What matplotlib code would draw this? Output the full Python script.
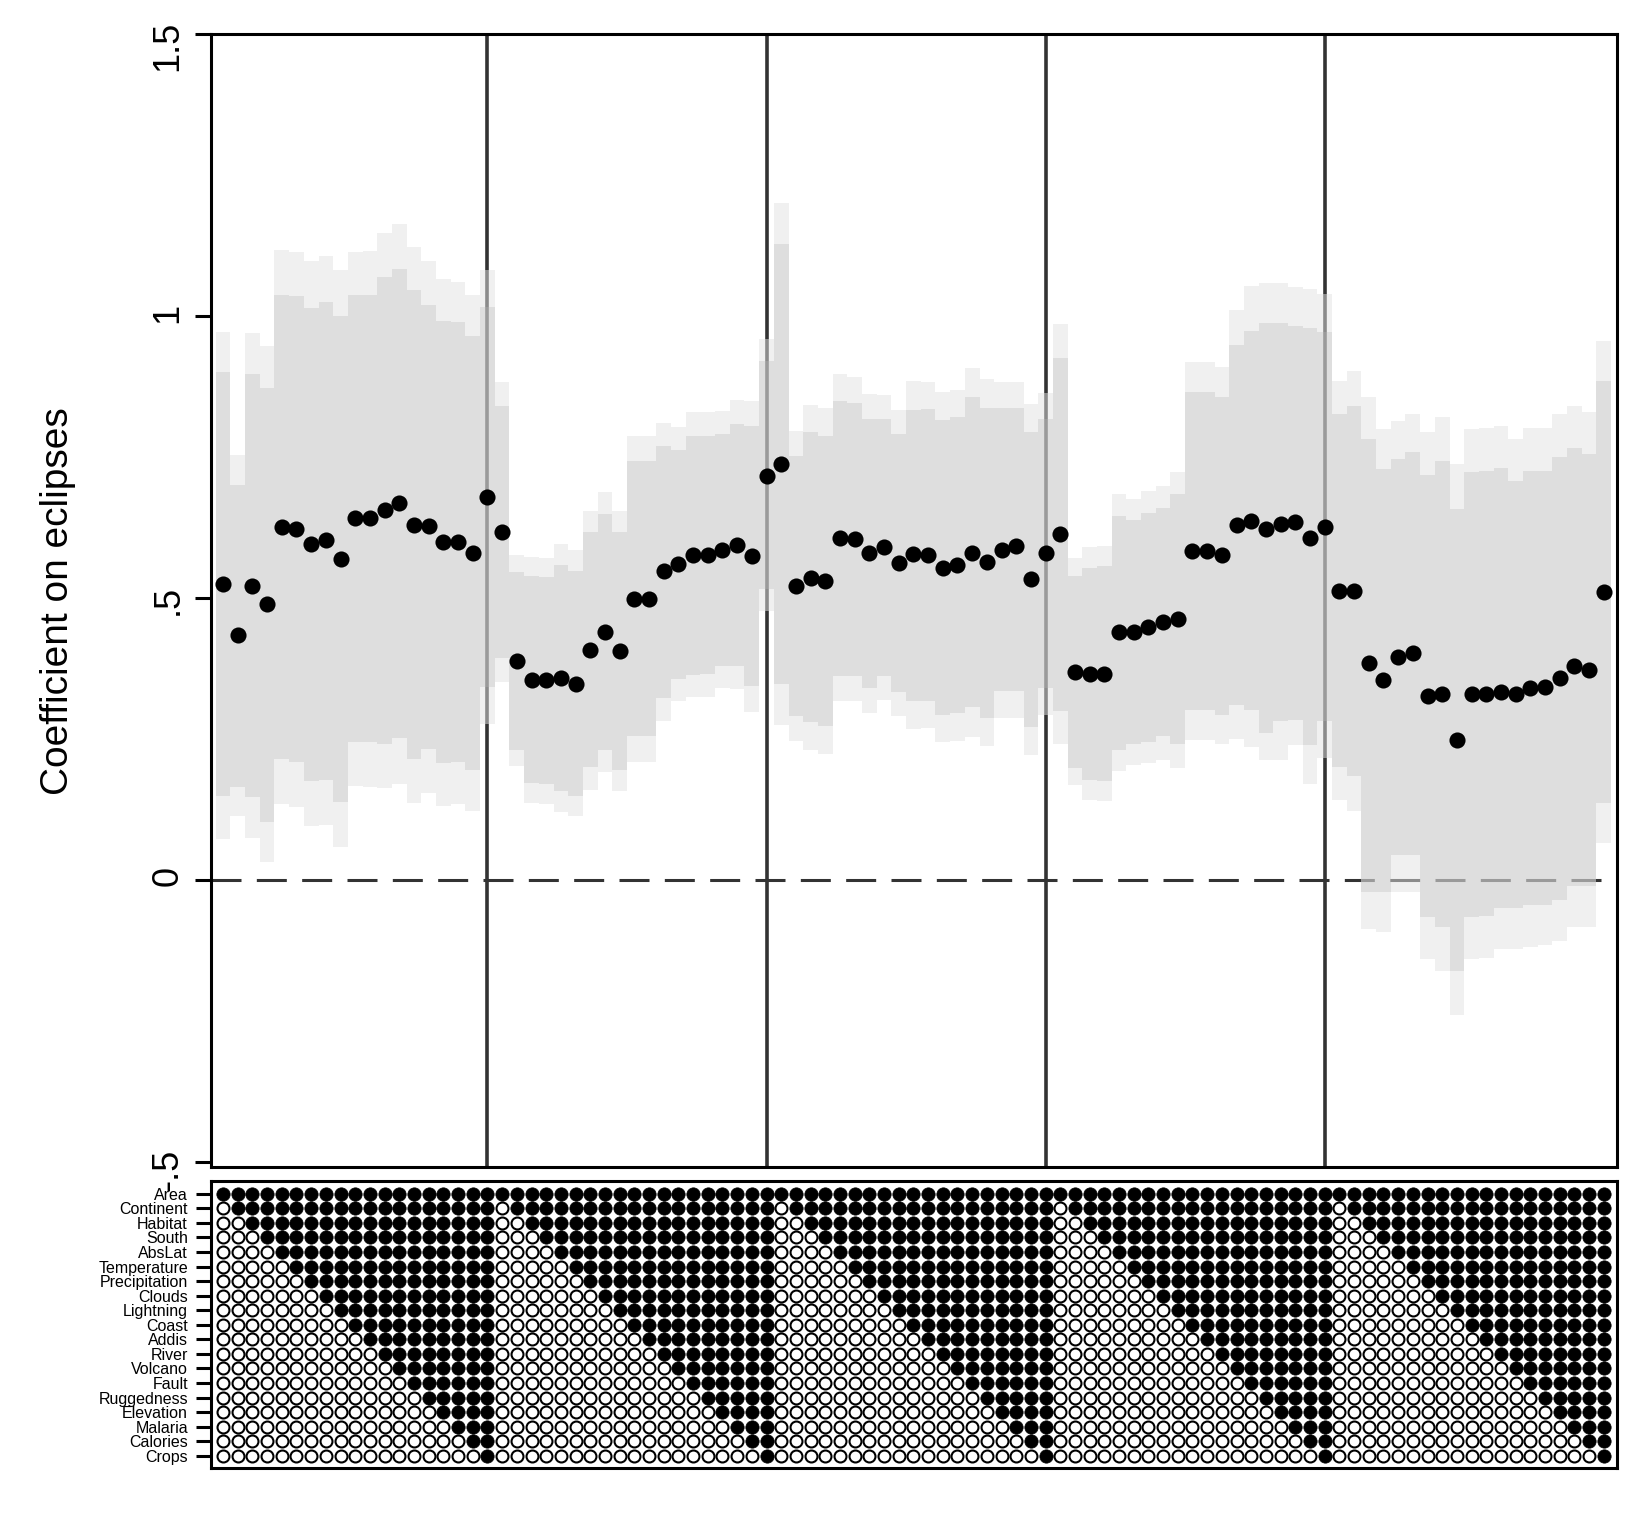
import matplotlib
matplotlib.use("Agg")
import matplotlib.pyplot as plt
import numpy as np

plt.rcParams['font.family'] = ['Liberation Sans', 'DejaVu Sans']
plt.rcParams['lines.scale_dashes'] = False

# ---------------- data ----------------
controls = ["Area", "Continent", "Habitat", "South", "AbsLat", "Temperature",
            "Precipitation", "Clouds", "Lightning", "Coast", "Addis", "River",
            "Volcano", "Fault", "Ruggedness", "Elevation", "Malaria", "Calories",
            "Crops"]

# number of controls included (first n of the list) in each specification, per block
n_included = [
    [1, 2, 3, 4, 5, 6, 7, 8, 9, 10, 11, 12, 13, 14, 15, 16, 17, 18, 19],
    [1, 2, 3, 4, 5, 6, 7, 8, 9, 10, 11, 12, 13, 14, 15, 16, 17, 18, 19],
    [1, 2, 3, 4, 5, 6, 7, 8, 9, 10, 11, 12, 13, 14, 15, 16, 17, 18, 19],
    [1, 2, 3, 4, 5, 6, 7, 8, 9, 10, 11, 12, 13, 14, 15, 16, 17, 18, 19],
    [1, 2, 3, 4, 5, 6, 7, 8, 9, 10, 11, 12, 13, 14, 15, 16, 17, 18, 19],
]

coef = [
    0.524, 0.434, 0.522, 0.489, 0.626, 0.622, 0.595, 0.602, 0.569, 0.641, 0.641, 0.656, 0.668, 0.629, 0.627, 0.600, 0.600, 0.580, 0.679,
    0.617, 0.388, 0.355, 0.354, 0.358, 0.347, 0.408, 0.439, 0.406, 0.499, 0.499, 0.547, 0.560, 0.576, 0.576, 0.585, 0.594, 0.574, 0.717,
    0.738, 0.521, 0.536, 0.530, 0.606, 0.604, 0.580, 0.590, 0.562, 0.578, 0.577, 0.554, 0.558, 0.580, 0.564, 0.585, 0.592, 0.533, 0.579,
    0.614, 0.369, 0.366, 0.366, 0.440, 0.440, 0.449, 0.457, 0.462, 0.584, 0.584, 0.576, 0.630, 0.637, 0.622, 0.632, 0.634, 0.606, 0.625,
    0.513, 0.513, 0.385, 0.354, 0.396, 0.403, 0.326, 0.330, 0.249, 0.330, 0.330, 0.334, 0.330, 0.341, 0.343, 0.358, 0.380, 0.373, 0.511,
]

hi95 = [
    0.972, 0.753, 0.969, 0.947, 1.117, 1.113, 1.097, 1.106, 1.082, 1.113, 1.115, 1.148, 1.163, 1.123, 1.097, 1.065, 1.061, 1.038, 1.082,
    0.883, 0.577, 0.573, 0.570, 0.596, 0.585, 0.655, 0.688, 0.655, 0.788, 0.788, 0.810, 0.803, 0.829, 0.829, 0.831, 0.851, 0.849, 0.959,
    1.201, 0.796, 0.842, 0.837, 0.897, 0.891, 0.862, 0.859, 0.834, 0.884, 0.883, 0.865, 0.869, 0.908, 0.889, 0.883, 0.883, 0.844, 0.863,
    0.986, 0.571, 0.591, 0.593, 0.684, 0.675, 0.690, 0.698, 0.724, 0.918, 0.918, 0.910, 1.010, 1.054, 1.058, 1.058, 1.052, 1.047, 1.039,
    0.884, 0.902, 0.857, 0.800, 0.813, 0.827, 0.794, 0.821, 0.737, 0.800, 0.801, 0.805, 0.782, 0.801, 0.801, 0.827, 0.841, 0.829, 0.955,
]

hi90 = [
    0.900, 0.701, 0.898, 0.873, 1.038, 1.035, 1.015, 1.025, 1.000, 1.038, 1.038, 1.069, 1.084, 1.046, 1.020, 0.991, 0.989, 0.964, 1.016,
    0.841, 0.546, 0.539, 0.537, 0.558, 0.547, 0.617, 0.648, 0.617, 0.743, 0.743, 0.769, 0.763, 0.788, 0.788, 0.790, 0.809, 0.805, 0.920,
    1.127, 0.752, 0.794, 0.787, 0.849, 0.846, 0.818, 0.818, 0.790, 0.834, 0.835, 0.815, 0.820, 0.857, 0.836, 0.837, 0.837, 0.795, 0.817,
    0.926, 0.539, 0.554, 0.556, 0.645, 0.638, 0.650, 0.659, 0.684, 0.866, 0.866, 0.857, 0.948, 0.974, 0.987, 0.987, 0.983, 0.978, 0.972,
    0.827, 0.841, 0.782, 0.729, 0.746, 0.758, 0.718, 0.742, 0.658, 0.724, 0.726, 0.730, 0.708, 0.726, 0.726, 0.750, 0.766, 0.756, 0.884,
]

lo90 = [
    0.148, 0.165, 0.147, 0.103, 0.214, 0.209, 0.175, 0.177, 0.139, 0.244, 0.244, 0.241, 0.251, 0.214, 0.232, 0.207, 0.209, 0.195, 0.342,
    0.394, 0.231, 0.172, 0.170, 0.157, 0.149, 0.201, 0.230, 0.195, 0.256, 0.256, 0.323, 0.356, 0.363, 0.365, 0.380, 0.380, 0.344, 0.516,
    0.347, 0.290, 0.280, 0.273, 0.362, 0.362, 0.341, 0.362, 0.333, 0.317, 0.318, 0.293, 0.296, 0.306, 0.288, 0.335, 0.335, 0.272, 0.340,
    0.299, 0.199, 0.177, 0.176, 0.231, 0.241, 0.245, 0.255, 0.241, 0.301, 0.301, 0.293, 0.310, 0.301, 0.260, 0.282, 0.284, 0.240, 0.282,
    0.201, 0.185, -0.021, -0.021, 0.045, 0.045, -0.066, -0.083, -0.162, -0.066, -0.064, -0.050, -0.050, -0.044, -0.044, -0.036, -0.010, -0.010, 0.136,
]

lo95 = [
    0.073, 0.113, 0.075, 0.031, 0.134, 0.130, 0.095, 0.097, 0.058, 0.166, 0.165, 0.163, 0.170, 0.136, 0.155, 0.131, 0.134, 0.122, 0.276,
    0.351, 0.202, 0.136, 0.134, 0.120, 0.113, 0.160, 0.192, 0.157, 0.210, 0.210, 0.281, 0.318, 0.324, 0.325, 0.340, 0.339, 0.297, 0.476,
    0.274, 0.246, 0.230, 0.223, 0.317, 0.317, 0.296, 0.319, 0.290, 0.268, 0.270, 0.245, 0.247, 0.253, 0.238, 0.287, 0.287, 0.222, 0.293,
    0.241, 0.168, 0.142, 0.140, 0.194, 0.204, 0.207, 0.213, 0.199, 0.249, 0.249, 0.241, 0.250, 0.236, 0.213, 0.213, 0.239, 0.171, 0.217,
    0.142, 0.122, -0.087, -0.093, -0.021, -0.021, -0.140, -0.162, -0.240, -0.140, -0.139, -0.123, -0.123, -0.119, -0.115, -0.108, -0.083, -0.083, 0.065,
]

y_ticks = [-0.5, 0, 0.5, 1, 1.5]
y_ticklabels = ["-.5", "0", ".5", "1", "1.5"]
ylabel = "Coefficient on eclipses"

# ---------------- figure ----------------
W, H = 1650, 1514
fig = plt.figure(figsize=(W / 100, H / 100), dpi=100)
ax = fig.add_axes([211 / W, 1 - 1167 / H, 1406 / W, 1133 / H])
axb = fig.add_axes([211 / W, 1 - 1468 / H, 1406 / W, 287 / H])

coef = np.array(coef)
hi95, hi90, lo90, lo95 = map(np.array, (hi95, hi90, lo90, lo95))
x = np.arange(len(coef))
flat_n = [n for block in n_included for n in block]
block_len = len(n_included[0])
separators = [i * block_len + block_len - 1 for i in range(len(n_included) - 1)]

# reference lines (beneath translucent bands)
for s in separators:
    ax.axvline(s, color='#333333', lw=2.6, zorder=1)
ax.axhline(0, color='#333333', lw=2.2, dashes=(21.6, 11.04), zorder=1)

# confidence bands
ax.bar(x, hi95 - lo95, bottom=lo95, width=1.0, color=(227 / 255,) * 3,
       alpha=0.5, linewidth=0, zorder=2)
ax.bar(x, hi90 - lo90, bottom=lo90, width=1.0, color=(186 / 255,) * 3,
       alpha=0.33, linewidth=0, zorder=2.1)

ax.plot(x, coef, 'o', color='black', ms=11.6, mew=0, zorder=3)

ax.set_xlim(-0.82, 94.9)
ax.set_ylim(-0.509, 1.5)
ax.set_xticks([])
ax.set_yticks(y_ticks)
ax.set_yticklabels(y_ticklabels)
ax.tick_params(axis='y', length=11.5, width=2.2, pad=7, labelsize=26,
               labelrotation=90)
for sp in ax.spines.values():
    sp.set_linewidth(2.2)
    sp.set_zorder(5)

fig.text(58 / W, 1 - 601 / H, ylabel, rotation=90, ha='center', va='center',
         fontsize=28)

# ---------------- specification matrix ----------------
fx, fy, ox, oy = [], [], [], []
for c, n in enumerate(flat_n):
    for r in range(len(controls)):
        if r < n:
            fx.append(c); fy.append(r)
        else:
            ox.append(c); oy.append(r)
axb.plot(fx, fy, 'o', ms=9.6, mfc='black', mec='black', mew=0.5, ls='none')
axb.plot(ox, oy, 'o', ms=8.6, mfc='white', mec='black', mew=1.5, ls='none')

axb.set_xlim(-0.82, 94.9)
axb.set_ylim(18.83, -0.87)
axb.set_xticks([])
axb.set_yticks(range(len(controls)))
axb.set_yticklabels(controls)
axb.tick_params(axis='y', length=10.8, width=2.2, pad=5.8, labelsize=11.5)
for sp in axb.spines.values():
    sp.set_linewidth(2.2)

fig.savefig("out.png", dpi=100)
